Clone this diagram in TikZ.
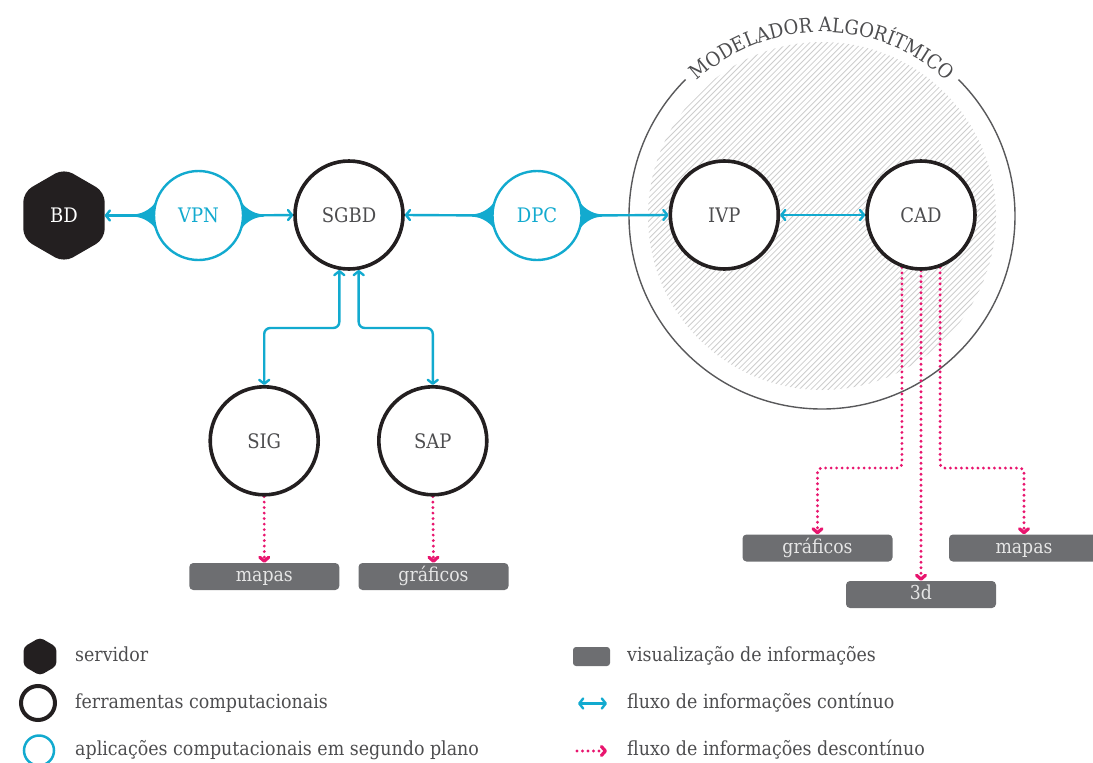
\documentclass[tikz,border=0pt]{standalone}
\usepackage{fontspec}
\setmainfont{DejaVu Serif Condensed}
\usetikzlibrary{arrows.meta,decorations.text,calc}
\pgfdeclarelayer{back}
\pgfdeclarelayer{links}
\pgfsetlayers{back,links,main}

\definecolor{ink}{HTML}{231F20}
\definecolor{txt}{HTML}{4D4D4F}
\definecolor{flow}{HTML}{12AACF}
\definecolor{dots}{HTML}{E8156E}
\definecolor{panel}{HTML}{6D6E71}
\definecolor{paneltxt}{HTML}{E6E6E6}
\definecolor{hatch}{HTML}{CDCDCD}
\definecolor{ring}{HTML}{58585A}

\newcommand\fLabel{\fontsize{20}{24}\selectfont}
\newcommand\fLegend{\fontsize{19.4}{23}\selectfont}
\newcommand\fPanel{\fontsize{19.2}{22}\selectfont}
\newcommand\fTitle{\fontsize{20}{24}\selectfont}

% tapered joint between a background-application circle and its connector
\newcommand\flare[2]{%
  \fill[flow, shift={(#1)}, xscale=#2]
    (-19:45) .. controls +(1.8,5) and +(-11,0) .. (65,-1.2)
    -- (65,1.2) .. controls +(-11,0) and +(1.8,-5) .. (19:45)
    -- (0,0) -- cycle;}

\begin{document}
\begin{tikzpicture}[x=1pt, y=-1pt,
  tool/.style={circle, draw=ink, line width=3.6pt, fill=white, minimum size=108pt,
    inner sep=0pt, text=txt, font=\fLabel},
  app/.style={circle, draw=flow, line width=2.4pt, fill=white, minimum size=89pt,
    inner sep=0pt, text=flow, font=\fLabel},
  hexnode/.style={minimum width=81pt, minimum height=88pt, inner sep=0pt,
    text=white, font=\fLabel},
  panelbox/.style={rectangle, rounded corners=4pt, fill=panel, text=paneltxt,
    minimum width=150pt, minimum height=27pt, inner sep=0pt, font=\fPanel,
    text height=2.3ex, text depth=0.3ex},
  cont/.style={draw=flow, line width=2.4pt,
    >={Straight Barb[round,length=4pt,width=10pt]}},
  disc/.style={draw=dots, line width=3.2pt, line cap=round,
    dash pattern=on 0pt off 5.5pt,
    >={Straight Barb[round,length=4pt,width=9pt]}},
  legtext/.style={anchor=west, text=txt, font=\fLegend, inner sep=0pt,
    text height=2.4ex, text depth=0.3ex}
]
\useasboundingbox (0,0) rectangle (1093,763);

% ---- nodes ----
\node[hexnode] (bd) at (64,215.5) {BD};
\node[app] (vpn) at (198.5,215.5) {VPN};
\node[tool] (sgbd) at (349,215) {SGBD};
\node[app] (dpc) at (537,215.5) {DPC};
\node[tool] (ivp) at (724.3,215) {IVP};
\node[tool] (cad) at (921,215) {CAD};
\node[tool] (sig) at (264.2,440.8) {SIG};
\node[tool] (sap) at (432.8,440.8) {SAP};

\node[panelbox] (mapasA) at (264.3,576.5) {mapas};
\node[panelbox] (grafA) at (433.5,576.5) {gráficos};
\node[panelbox] (grafB) at (817.5,548) {gráficos};
\node[panelbox] (tresd) at (921,594.5) {3d};
\node[panelbox] (mapasB) at (1024,548) {mapas};

% ---- algorithmic modeller enclosure ----
\coordinate (mc) at (822,216);
\begin{pgfonlayer}{back}
  \begin{scope}
    \clip (mc) circle[radius=174];
    \foreach \k in {-60,...,60}
      \draw[hatch, line width=0.8pt] ($(mc)+(\k*5.8-200,200)$) -- ++(400,-400);
  \end{scope}
  \draw[ring, line width=1.4pt] (mc) ++(-45:193) arc[start angle=-45, end angle=225, radius=193];
  \path[decorate, decoration={text along path, text align=center,
      text={|\fTitle\color{txt}|MODELADOR ALGORÍTMICO}}]
    (mc) ++(-140:184) arc[start angle=-140, end angle=-40, radius=184];
\end{pgfonlayer}

% ---- connectors ----
\begin{pgfonlayer}{links}
  \fill[ink, rounded corners=10pt, shift={(bd.center)}]
    (90:47) -- (30:47) -- (-30:47) -- (-90:47) -- (-150:47) -- (150:47) -- cycle;
  \flare{vpn.center}{1}
  \flare{vpn.center}{-1}
  \flare{dpc.center}{1}
  \flare{dpc.center}{-1}
  \draw[cont,->] (vpn.west) -- (bd.east);
  \draw[cont,->] (vpn.east) -- (sgbd.west);
  \draw[cont,->] (dpc.west) -- (sgbd.east);
  \draw[cont,->] (dpc.east) -- (ivp.west);
  \draw[cont,<->] (ivp.east) -- (cad.west);

  \coordinate (splitA) at (0,328);
  \draw[cont,<->, rounded corners=6pt] (sgbd.260) -- (sgbd.260 |- splitA)
    -- (sig.north |- splitA) -- (sig.north);
  \draw[cont,<->, rounded corners=6pt] (sgbd.280) -- (sgbd.280 |- splitA)
    -- (sap.north |- splitA) -- (sap.north);

  \draw[disc,->] (sig.south) -- (mapasA.north);
  \draw[disc,->] (sap.south) -- (grafA.north);

  \coordinate (splitB) at (0,468);
  \draw[disc,->, rounded corners=4pt] (cad.250) -- (cad.250 |- splitB)
    -- (grafB.north |- splitB) -- (grafB.north);
  \draw[disc,->] (cad.south) -- (tresd.north);
  \draw[disc,->, rounded corners=4pt] (cad.290) -- (cad.290 |- splitB)
    -- (mapasB.north |- splitB) -- (mapasB.north);
\end{pgfonlayer}

% ---- legend ----
\fill[ink, rounded corners=4pt, shift={(40,656.5)}]
  (90:19) -- (30:19) -- (-30:19) -- (-90:19) -- (-150:19) -- (150:19) -- cycle;
\node[legtext] (legA) at (75,656) {servidor};
\draw[ink, line width=4pt] (38,703) circle[radius=17];
\node[legtext] (legB) at (75,703) {ferramentas computacionais};
\draw[flow, line width=2.5pt] (39,750.5) circle[radius=15];
\node[legtext] (legC) at (75,750) {aplicações computacionais em segundo plano};

\fill[panel, rounded corners=3pt] (573,647) rectangle (610,666);
\node[legtext] (legD) at (627,656) {visualização de informações};
\coordinate (contA) at (578,703.5);
\coordinate (contB) at (607,703.5);
\draw[cont,<->] (contA) -- (contB);
\node[legtext] (legE) at (627,703) {fluxo de informações contínuo};
\coordinate (discA) at (577,751);
\coordinate (discB) at (607,751);
\draw[disc,->] (discA) -- (discB);
\node[legtext] (legF) at (627,750) {fluxo de informações descontínuo};
\end{tikzpicture}
\end{document}
